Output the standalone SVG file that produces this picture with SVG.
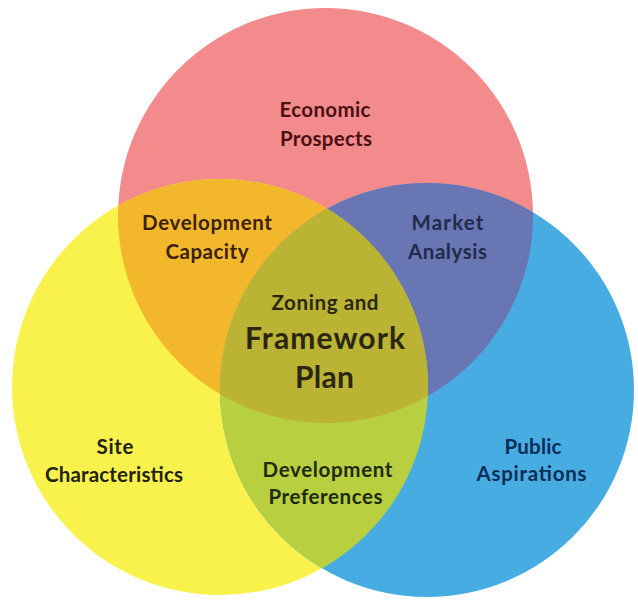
<svg xmlns="http://www.w3.org/2000/svg" width="638" height="603" viewBox="0 0 638 603">
<style>
.lbl{font-family:Lato,"Open Sans","Liberation Sans",sans-serif;font-weight:700;font-size:20.5px;text-anchor:middle}
.big{font-size:30px}
</style>
<defs>
<clipPath id="cR"><circle cx="325.5" cy="215.5" r="207.5"/></clipPath>
<clipPath id="cY"><circle cx="220" cy="387" r="208"/></clipPath>
</defs>
<rect width="638" height="603" fill="#ffffff"/>
<g id="circle-economic">
<circle cx="325.5" cy="215.5" r="207.5" fill="#f38a8c"/>
</g>
<g id="circle-site">
<circle cx="220" cy="387" r="208" fill="#f9f24c"/>
</g>
<g id="circle-public">
<circle cx="427" cy="390" r="207" fill="#47ace2"/>
</g>
<g id="overlap-capacity" clip-path="url(#cR)">
<circle cx="220" cy="387" r="208" fill="#f2b72b"/>
</g>
<g id="overlap-market" clip-path="url(#cR)">
<circle cx="427" cy="390" r="207" fill="#6876b3"/>
</g>
<g id="overlap-preferences" clip-path="url(#cY)">
<circle cx="427" cy="390" r="207" fill="#b8cf40"/>
</g>
<g id="overlap-center" clip-path="url(#cR)">
<g clip-path="url(#cY)">
<circle cx="427" cy="390" r="207" fill="#bab334"/>
</g>
</g>
<g id="labels">
<text class="lbl" x="325" y="117" fill="#4b1012" textLength="91">Economic</text>
<text class="lbl" x="326" y="145.5" fill="#4b1012" textLength="92">Prospects</text>
<text class="lbl" x="207" y="230" fill="#3b2208" textLength="130">Development</text>
<text class="lbl" x="207" y="259" fill="#3b2208" textLength="83">Capacity</text>
<text class="lbl" x="447.5" y="230" fill="#222a4a" textLength="72">Market</text>
<text class="lbl" x="447.5" y="259" fill="#222a4a" textLength="79">Analysis</text>
<text class="lbl" x="325" y="309.5" fill="#2b2610" textLength="107">Zoning and</text>
<text class="lbl big" x="325" y="348.5" fill="#2b2610" textLength="160">Framework</text>
<text class="lbl big" x="324.5" y="388" fill="#2b2610" textLength="59">Plan</text>
<text class="lbl" x="115" y="453.5" fill="#222211" textLength="37">Site</text>
<text class="lbl" x="114" y="482" fill="#222211" textLength="138">Characteristics</text>
<text class="lbl" x="327.5" y="476.5" fill="#1e2a10" textLength="130">Development</text>
<text class="lbl" x="325.5" y="503.5" fill="#1e2a10" textLength="114">Preferences</text>
<text class="lbl" x="533" y="453.5" fill="#0c2d55" textLength="57">Public</text>
<text class="lbl" x="531.5" y="481" fill="#0c2d55" textLength="110">Aspirations</text>
</g>
</svg>
